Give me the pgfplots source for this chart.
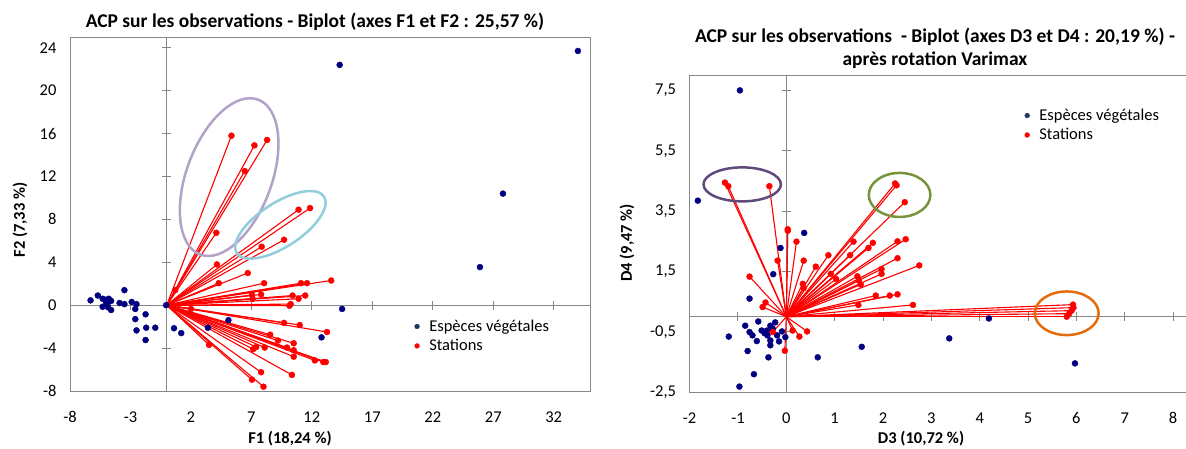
\documentclass[border=0pt]{standalone}
\usepackage{pgfplots}
\pgfplotsset{compat=1.18}
\usepackage{pgfplotstable}
\usepackage{fontspec}
\setmainfont{Carlito}
\definecolor{navyb}{RGB}{0,0,128}
\definecolor{legblue}{RGB}{31,56,100}
\definecolor{axgray}{RGB}{134,134,134}
\definecolor{lav}{RGB}{179,162,199}
\definecolor{sky}{RGB}{146,205,220}
\definecolor{dpurple}{RGB}{96,74,123}
\definecolor{olivg}{RGB}{119,147,60}
\definecolor{orng}{RGB}{228,108,10}

\pgfplotstableread{
x y
-6.3 0.45
-5.7 0.9
-5.3 0.6
-5.1 0.5
-4.8 0.6
-4.6 0.4
-5.3 -0.15
-4.85 -0.2
-4.6 -0.45
-5.0 0.15
-4.8 0.3
-3.9 0.2
-3.5 1.4
-3.5 0.1
-2.9 0.3
-2.5 0.1
-2.6 -0.35
-1.75 -0.85
-2.6 -1.3
-2.5 -2.35
-1.7 -2.1
-0.95 -2.1
-1.75 -3.25
-0.05 0.0
0.6 -2.15
1.2 -2.6
3.4 -2.1
5.1 -1.4
12.8 -3.0
14.5 -0.35
25.9 3.55
27.8 10.4
14.3 22.4
34.0 23.7
}\speciesA

\pgfplotstableread{
x y
5.35 15.8
7.25 14.9
8.3 15.4
6.45 12.5
4.1 6.75
0.7 1.4
10.9 8.9
11.85 9.05
9.7 6.1
7.85 5.45
4.15 3.8
6.7 3.0
4.3 2.05
8.05 2.05
11.1 2.05
11.6 2.05
13.6 2.3
7.05 0.95
7.8 1.0
7.1 0.6
10.4 0.9
11.45 0.9
10.9 0.6
10.25 0.1
10.15 -0.05
2.0 -0.35
9.7 -1.65
11.0 -1.85
13.25 -2.5
8.55 -2.75
9.2 -3.3
10.5 -3.55
9.95 -3.95
8.1 -3.95
7.4 -3.9
7.15 -4.1
10.5 -4.2
10.5 -4.8
12.25 -5.15
12.95 -5.3
13.15 -5.3
3.5 -3.7
7.8 -6.25
10.35 -6.5
7.05 -6.95
8.0 -7.6
}\stationsA

\pgfplotstableread{
x y
-0.96 7.51
-1.83 3.85
0.37 2.78
-0.12 2.28
-0.27 1.41
-0.76 0.6
4.19 -0.06
3.37 -0.72
1.56 -1.0
0.65 -1.35
5.97 -1.55
-1.19 -0.66
-0.85 -0.3
-0.76 -0.51
-0.58 -0.16
-0.61 -0.81
-0.7 -0.62
-0.51 -0.46
-0.4 -0.46
-0.33 -0.3
-0.23 -0.19
-0.39 -0.62
-0.33 -0.79
-0.15 -0.82
-0.19 -0.62
-0.02 -0.68
-0.09 -0.49
-0.33 -0.95
-0.8 -1.14
-0.37 -1.35
-0.67 -1.91
-0.97 -2.32
-0.45 -0.55
-0.28 -0.4
}\speciesB

\pgfplotstableread{
x y
-1.27 4.45
-1.2 4.33
-0.35 4.33
2.25 4.42
2.28 4.36
2.45 3.8
0.03 2.9
0.03 2.85
0.21 2.49
1.39 2.49
1.79 2.45
1.7 2.28
2.3 2.5
2.47 2.57
-0.18 1.86
0.36 1.86
0.87 2.04
1.32 2.04
2.3 1.94
0.61 1.66
0.92 1.42
1.03 1.25
1.97 1.58
1.97 1.42
1.47 1.34
1.5 1.2
1.54 1.07
2.75 1.7
0.34 1.09
0.36 0.95
-0.76 1.33
-0.43 0.47
-0.49 0.32
1.85 0.7
2.14 0.7
2.3 0.74
1.49 0.39
2.62 0.39
5.93 0.4
5.94 0.3
5.9 0.2
5.85 0.1
5.8 0.0
-0.28 -0.51
-0.03 -1.13
0.13 -0.46
0.27 -0.66
0.43 -0.49
}\stationsB

\pgfplotsset{
  excel/.style={
    scale only axis,
    axis line style={axgray, line width=1pt},
    major tick length=0pt,
    tick style={draw=none},
    ticklabel style={font=\fontsize{16.5}{19}\selectfont},
    xticklabel style={yshift=-17pt},
    yticklabel style={xshift=-10pt},
    /pgf/number format/assume math mode=true,
    legend cell align=left,
    legend style={draw=none, fill=none, anchor=north west, inner sep=0pt,
      font=\fontsize{16.5}{19}\selectfont, row sep=4.5pt, column sep=0pt,
      nodes={inner sep=1pt}},
  },
  sp/.style={only marks, mark=*, mark size=3pt, mark options={draw=navyb, fill=navyb},
    legend image code/.code={\path (-4pt,0pt) (11pt,0pt);
      \fill[legblue] (0pt,0pt) circle[radius=2.4pt];}},
  st/.style={only marks, mark=*, mark size=3pt, mark options={draw=red, fill=red},
    legend image code/.code={\path (-4pt,0pt) (11pt,0pt);
      \fill[red] (0pt,0pt) circle[radius=2.4pt];}},
  vec/.style={red, line width=1.1pt, quiver={u=\thisrow{x}, v=\thisrow{y}}, forget plot},
}

\begin{document}
\begin{tikzpicture}
\path[use as bounding box] (0pt,0pt) rectangle (1186pt,448pt);

% ---------- left chart ----------
\begin{axis}[excel,
  at={(70pt,57pt)}, anchor=south west, width=520pt, height=354pt,
  xmin=-8, xmax=35, ymin=-8, ymax=25,
  xtick={-8,-3,2,7,12,17,22,27,32},
  xticklabels={-8,-3,2,7,12,17,22,27,32},
  ytick={-8,-4,0,4,8,12,16,20,24},
  yticklabels={-8,-4,0,4,8,12,16,20,24},
  legend style={at={(0.659,0.204)}},
]
\draw[axgray, line width=1pt] (axis cs:0,-8) -- (axis cs:0,25);
\draw[axgray, line width=1pt] (axis cs:-8,0) -- (axis cs:35,0);
\pgfplotsinvokeforeach{-4,0,4,8,12,16,20,24}{\draw[axgray, line width=1pt] ([xshift=-4.5pt]axis cs:0,#1) -- ([xshift=4.5pt]axis cs:0,#1);}
\pgfplotsinvokeforeach{-3,2,7,12,17,22,27,32}{\draw[axgray, line width=1pt] ([yshift=-4.5pt]axis cs:#1,0) -- ([yshift=4.5pt]axis cs:#1,0);}
\addplot[sp] table {\speciesA};
\addlegendentry{Espèces\ végétales}
\addplot[vec] table[x expr=0, y expr=0] {\stationsA};
\addplot[st] table {\stationsA};
\addlegendentry{Stations}
\draw[lav, line width=2.5pt, rotate around={69.5:(axis cs:5.16,11.94)}] (axis cs:5.16,11.94) ellipse [x radius=82.7pt, y radius=42.6pt];
\draw[sky, line width=2.5pt, rotate around={33:(axis cs:9.4,7.49)}] (axis cs:9.4,7.49) ellipse [x radius=52pt, y radius=22pt];
\end{axis}

% ---------- right chart ----------
\begin{axis}[excel,
  at={(689.6pt,56pt)}, anchor=south west, width=498pt, height=316.4pt,
  xmin=-2, xmax=8.3, ymin=-2.5, ymax=8,
  xtick={-2,-1,0,1,2,3,4,5,6,7,8},
  xticklabels={-2,-1,0,1,2,3,4,5,6,7,8},
  ytick={-2.5,-0.5,1.5,3.5,5.5,7.5},
  yticklabels={{-2,5},{-0,5},{1,5},{3,5},{5,5},{7,5}},
  legend style={at={(0.669,0.898)}},
]
\draw[axgray, line width=1pt] (axis cs:0,-2.5) -- (axis cs:0,8);
\draw[axgray, line width=1pt] (axis cs:-2,0) -- (axis cs:8.3,0);
\pgfplotsinvokeforeach{-0.5,1.5,3.5,5.5,7.5}{\draw[axgray, line width=1pt] ([xshift=-4.5pt]axis cs:0,#1) -- ([xshift=4.5pt]axis cs:0,#1);}
\pgfplotsinvokeforeach{-1,1,2,3,4,5,6,7,8}{\draw[axgray, line width=1pt] ([yshift=-4.5pt]axis cs:#1,0) -- ([yshift=4.5pt]axis cs:#1,0);}
\addplot[sp] table {\speciesB};
\addlegendentry{Espèces\ végétales}
\addplot[vec] table[x expr=0, y expr=0] {\stationsB};
\addplot[st] table {\stationsB};
\addlegendentry{Stations}
\draw[dpurple, line width=2.5pt] (axis cs:-0.912,4.39) ellipse [x radius=38.7pt, y radius=17pt];
\draw[olivg, line width=2.5pt] (axis cs:2.343,4.04) ellipse [x radius=30.8pt, y radius=22pt];
\draw[orng, line width=2.5pt] (axis cs:5.80,0.113) ellipse [x radius=31.9pt, y radius=21.8pt];
\end{axis}

% ---------- titles and axis labels ----------
\node[font=\fontsize{19.5}{23}\selectfont\bfseries] at (315pt,426pt) {ACP sur les observations - Biplot (axes F1 et F2 : 25,57 \%)};
\node[font=\fontsize{19.5}{23}\selectfont\bfseries, align=center] at (935pt,399.5pt) {ACP sur les observations\ \ - Biplot (axes D3 et D4 : 20,19 \%) -\\après rotation Varimax};
\node[font=\fontsize{16.5}{19}\selectfont\bfseries] at (290pt,9pt) {F1 (18,24 \%)};
\node[font=\fontsize{16.5}{19}\selectfont\bfseries] at (921pt,9pt) {D3 (10,72 \%)};
\node[font=\fontsize{16.5}{19}\selectfont\bfseries, rotate=90] at (20pt,228pt) {F2 (7,33 \%)};
\node[font=\fontsize{16.5}{19}\selectfont\bfseries, rotate=90] at (627pt,205pt) {D4 (9,47 \%)};
\end{tikzpicture}
\end{document}
